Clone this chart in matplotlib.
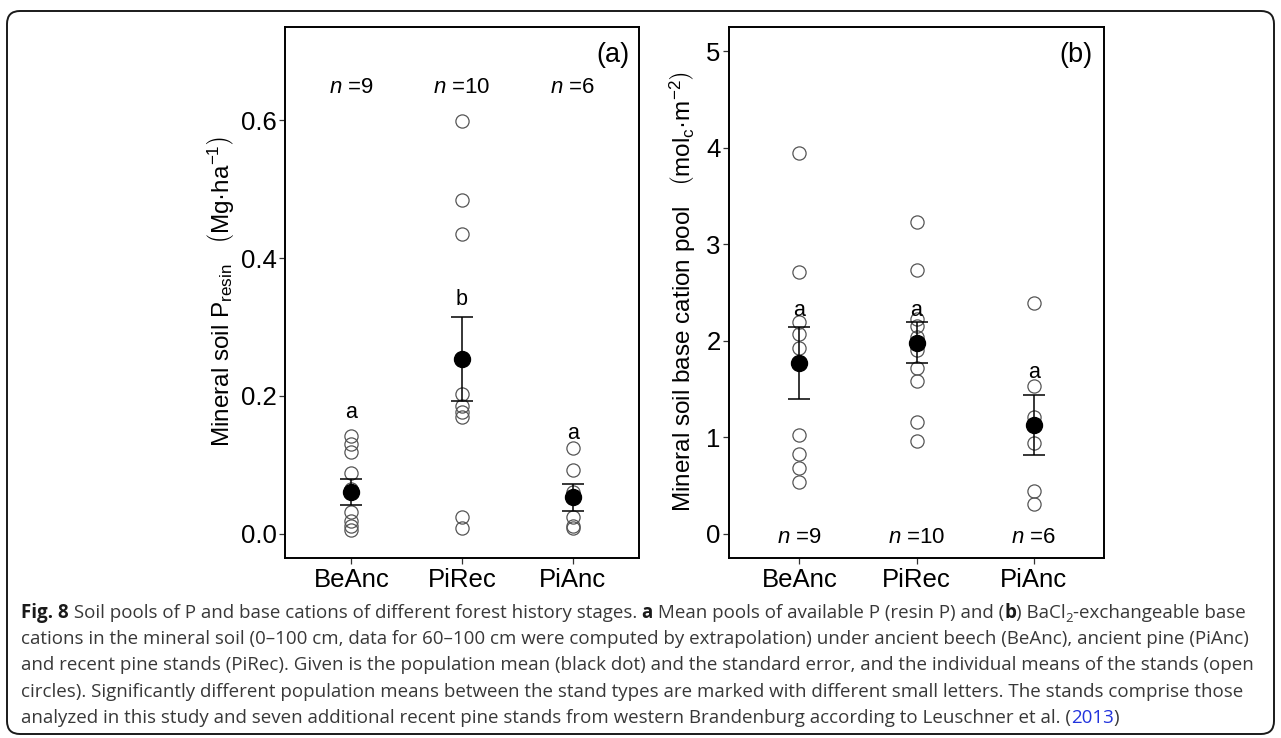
import matplotlib
matplotlib.use("Agg")
import matplotlib.pyplot as plt
from matplotlib.patches import FancyBboxPatch
from matplotlib.font_manager import FontProperties

# ---------------- data ----------------
categories = ["BeAnc", "PiRec", "PiAnc"]

# (a) resin P pools, Mg ha-1 : individual stand means
p_beanc = [0.142, 0.130, 0.119, 0.088, 0.065, 0.032, 0.018, 0.012, 0.006]
p_pirec = [0.598, 0.484, 0.435, 0.254, 0.203, 0.186, 0.177, 0.169, 0.025, 0.009]
p_pianc = [0.125, 0.092, 0.060, 0.024, 0.012, 0.008]
p_mean = [0.061, 0.254, 0.053]
p_se = [0.019, 0.061, 0.0195]
p_letters = ["a", "b", "a"]
p_letter_y = [0.168, 0.332, 0.138]

# (b) base cation pools, molc m-2
bc_beanc = [3.95, 2.71, 2.19, 2.07, 1.93, 1.02, 0.83, 0.68, 0.54]
bc_pirec = [3.23, 2.73, 2.23, 2.15, 2.04, 1.90, 1.72, 1.58, 1.16, 0.96]
bc_pianc = [2.39, 1.53, 1.21, 0.94, 0.44, 0.31]
bc_mean = [1.77, 1.98, 1.13]
bc_se = [0.375, 0.215, 0.31]
bc_letters = ["a", "a", "a"]
bc_letter_y = [2.26, 2.26, 1.61]

n_labels = ["9", "10", "6"]

# ---------------- style ----------------
plt.rcParams["font.family"] = ["Liberation Sans", "DejaVu Sans"]
plt.rcParams["mathtext.fontset"] = "custom"
plt.rcParams["mathtext.rm"] = "Liberation Sans"
plt.rcParams["mathtext.it"] = "Liberation Sans:italic"
plt.rcParams["mathtext.bf"] = "Liberation Sans:bold"

W, H = 1281, 738
fig = plt.figure(figsize=(W / 100, H / 100), dpi=100)
fig.patch.set_facecolor("white")

# background pixel axes for frame + caption
bg = fig.add_axes([0, 0, 1, 1], zorder=-1)
bg.set_xlim(0, W)
bg.set_ylim(H, 0)
bg.axis("off")
bg.add_patch(FancyBboxPatch((7, 11), 1267, 723,
                            boxstyle="round,pad=0,rounding_size=13",
                            fc="none", ec="#1a1a1a", lw=1.4))


def make_panel(rect, groups, means, ses, letters, letter_y, ylim, yticks,
               yticklabels, n_y, panel_lab):
    ax = fig.add_axes(rect)
    for i, vals in enumerate(groups):
        x = i + 1
        ax.plot([x] * len(vals), vals, "o", mfc="none", mec="#555555",
                ms=9.5, mew=0.9, zorder=2)
        ax.errorbar(x, means[i], yerr=ses[i], fmt="none", ecolor="black",
                    elinewidth=1.1, capsize=8, capthick=1.1, zorder=3)
        ax.plot(x, means[i], "o", color="black", ms=11.5, zorder=4)
        ax.text(x, letter_y[i], letters[i], ha="center", va="baseline",
                fontsize=15.5)
        ax.text(x, n_y, r"$n$ =" + n_labels[i], ha="center", va="baseline",
                fontsize=16)
    ax.set_xlim(0.4, 3.6)
    ax.set_ylim(*ylim)
    ax.set_xticks([1, 2, 3])
    ax.set_xticklabels(categories)
    ax.set_yticks(yticks)
    ax.set_yticklabels(yticklabels)
    ax.tick_params(length=4, width=0.9, color="#333333", labelsize=18.5,
                   labelcolor="black")
    ax.tick_params(axis="x", pad=3)
    ax.tick_params(axis="y", pad=2)
    for s in ax.spines.values():
        s.set_linewidth(1.4)
        s.set_color("black")
    ax.text(0.926, 0.947, panel_lab, transform=ax.transAxes, ha="center",
            va="center", fontsize=19.5)
    return ax


axL = make_panel([285 / W, 1 - 558 / H, 354 / W, 531 / H],
                 [p_beanc, p_pirec, p_pianc], p_mean, p_se, p_letters,
                 p_letter_y, (-0.035, 0.735), [0.0, 0.2, 0.4, 0.6],
                 ["0.0", "0.2", "0.4", "0.6"], 0.639, "(a)")
axR = make_panel([729 / W, 1 - 558 / H, 375 / W, 531 / H],
                 [bc_beanc, bc_pirec, bc_pianc], bc_mean, bc_se, bc_letters,
                 bc_letter_y, (-0.25, 5.25), [0, 1, 2, 3, 4, 5],
                 ["0", "1", "2", "3", "4", "5"], -0.09, "(b)")

fig.text(220 / W, 1 - 292 / H,
         r"Mineral soil $\mathregular{P_{resin}}$   $\left(\mathregular{Mg·ha^{-1}}\right)$",
         rotation=90, ha="center", va="center", fontsize=17.5)
fig.text(683 / W, 1 - 292 / H,
         r"Mineral soil base cation pool   $\left(\mathregular{mol_c·m^{-2}}\right)$",
         rotation=90, ha="center", va="center", fontsize=17.5)

# ---------------- caption ----------------
cap_family = "Open Sans"
cap_color = "#383838"
link_color = "#2233dd"
caption_lines = [
    [("Fig. 8", "bold"), (" Soil pools of P and base cations of different forest history stages. ", "normal"),
     ("a", "bold"), (" Mean pools of available P (resin P) and (", "normal"), ("b", "bold"),
     (") BaCl", "normal"), ("2", "sub"), ("-exchangeable base", "normal")],
    [("cations in the mineral soil (0\u2013100 cm, data for 60\u2013100 cm were computed by extrapolation) under ancient beech (BeAnc), ancient pine (PiAnc)", "normal")],
    [("and recent pine stands (PiRec). Given is the population mean (black dot) and the standard error, and the individual means of the stands (open", "normal")],
    [("circles). Significantly different population means between the stand types are marked with different small letters. The stands comprise those", "normal")],
    [("analyzed in this study and seven additional recent pine stands from western Brandenburg according to Leuschner et al. (", "normal"),
     ("2013", "link"), (")", "normal")],
]

renderer = fig.canvas.get_renderer()


def fprops(kind, size):
    if kind == "bold":
        return FontProperties(family=cap_family, weight="bold", size=size)
    if kind == "sub":
        return FontProperties(family=cap_family, size=size * 0.7)
    return FontProperties(family=cap_family, size=size)


def width_px(s, kind, size):
    fp = fprops(kind, size)
    w1 = renderer.get_text_width_height_descent("|" + s + "|", fp, ismath=False)[0]
    w0 = renderer.get_text_width_height_descent("||", fp, ismath=False)[0]
    return w1 - w0


def line_width(runs, size):
    return sum(width_px(s, k, size) for s, k in runs)


x0 = 21
target = 1242 - x0
size = 12 * target / line_width(caption_lines[0], 12)

baseline0 = 618
pitch = 26.2
for li, runs in enumerate(caption_lines):
    x = x0
    yb = baseline0 + li * pitch
    for s, kind in runs:
        fp = fprops(kind, size)
        col = "#1a1a1a" if kind == "bold" else (link_color if kind == "link" else cap_color)
        dy = 4 if kind == "sub" else 0
        bg.text(x, yb + dy, s, fontproperties=fp, color=col, ha="left",
                va="baseline")
        x += width_px(s, kind, size)

fig.savefig("out.png", dpi=100, facecolor="white")
